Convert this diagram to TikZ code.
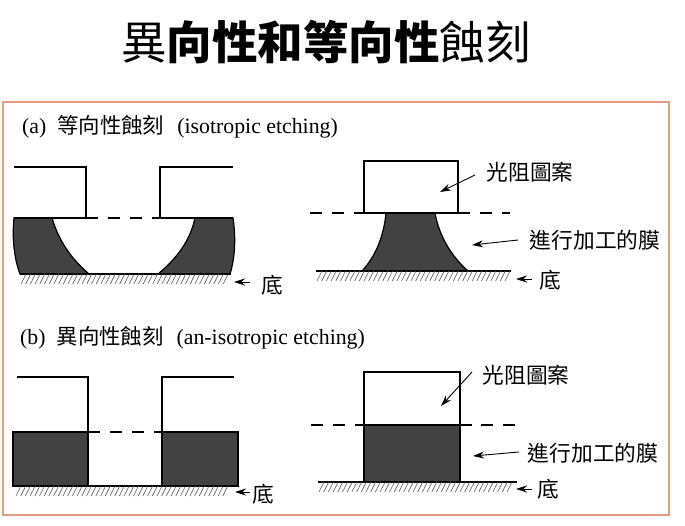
\documentclass[tikz,border=0pt]{standalone}
\usepackage{fontspec}
\usepackage{xcolor}
\usepackage{tikz}
\usetikzlibrary{
  positioning,
  calc,
  arrows.meta
}
\setmainfont{Liberation Serif}
\newfontfamily\cjk{Noto Sans CJK TC}
\newcommand{\capcjk}[1]{\hspace{11pt}{\fontsize{21.4}{22}\selectfont\cjk #1}\hspace{13pt}}
\definecolor{framecolor}{HTML}{E99A84}
\definecolor{filmcolor}{HTML}{424242}
\tikzset{
  outline/.style={line width=1.5pt, black},
  film/.style={fill=filmcolor, draw=black, line width=1.2pt},
  dashline/.style={line width=1.4pt, dash pattern=on 12pt off 10pt},
  hatchline/.style={line width=0.6pt, black!65},
  pointer/.style={-{Stealth[length=11pt,width=7pt]}, line width=0.9pt},
  label/.style={inner sep=0pt, font=\fontsize{21.7}{23}\selectfont\cjk},
  caption/.style={inner sep=0pt, anchor=west, font=\fontsize{21.8}{23}\selectfont}
}
\begin{document}
\begin{tikzpicture}[x=1pt, y=-1pt]
      \useasboundingbox (0,0) rectangle (685,526);

      % Title and frame
      \node[inner sep=0pt, font=\fontsize{45.5}{50}\selectfont\cjk] (title) at (326,42) {異\textbf{向性和等向性}蝕刻};
      \draw[framecolor, line width=1.6pt] (3,102) rectangle (669,515);

      % Captions
      \node[caption] (capa) at (22,127) {(a)\capcjk{等向性蝕刻}(isotropic etching)};
      \node[caption] (capb) at (20,338) {(b)\capcjk{異向性蝕刻}(an-isotropic etching)};

      % Panel a, left - film
      \draw[film] (14,218) -- (52,218) .. controls (60,245) and (75,262) .. (89,274)
        -- (20,274) .. controls (14,258) and (12,238) .. cycle;
      \draw[film] (195,218) -- (233,218) .. controls (236,238) and (235,258) .. (230,274)
        -- (158,274) .. controls (175,260) and (190,242) .. cycle;
      \draw[outline] (20,274) -- (231,274);
      \draw[outline] (14,167) -- (86,167) -- (86,218) -- (14,218);
      \draw[outline] (233,167) -- (160,167) -- (160,218) -- (233,218);
      \draw[dashline] (86,218) -- (162,218);

      % Panel a, right - film under resist
      \draw[film] (386,213) -- (435,213) .. controls (439,235) and (450,255) .. (468,271)
        -- (362,271) .. controls (376,256) and (384,235) .. cycle;
      \draw[outline] (364,161) rectangle (458,213);
      \draw[dashline] (310,213) -- (364,213);
      \draw[outline] (458,213) -- (470,213);
      \draw[dashline] (480,213) -- (510,213);
      \draw[outline] (316,271) -- (511,271);

      % Panel b, left - film
      \draw[film] (13,432) rectangle (88,486);
      \draw[film] (162,432) rectangle (238,486);
      \draw[outline] (15,486) -- (236,486);
      \draw[outline] (17,377) -- (88,377) -- (88,432);
      \draw[outline] (234,377) -- (162,377) -- (162,432);
      \draw[dashline] (88,432) -- (162,432);

      % Panel b, right - film under resist
      \draw[film] (364,425) rectangle (460,482);
      \draw[outline] (364,372) rectangle (460,425);
      \draw[dashline] (311,425) -- (364,425);
      \draw[outline] (460,425) -- (472,425);
      \draw[dashline] (481,425) -- (515,425);
      \draw[outline] (318,482) -- (517,482);

      % Substrate hatching
      \foreach \xa/\xb/\ya in {26/230/274, 322/511/271, 21/232/486, 324/515/482} {
        \pgfmathsetmacro\xc{\xa+4.7}
        \foreach \x in {\xa,\xc,...,\xb} {
          \draw[hatchline] (\x,\ya) -- (\x-5,\ya+10);
        }
      }

      % Labels
      \node[label] (subaleft) at (272,285) {底};
      \node[label] (subaright) at (550,280) {底};
      \node[label] (subbleft) at (263,494) {底};
      \node[label] (subbright) at (548,489) {底};
      \node[label] (resista) at (530,172) {光阻圖案};
      \node[label] (filma) at (595,240) {進行加工的膜};
      \node[label] (resistb) at (526,375) {光阻圖案};
      \node[label] (filmb) at (593,453) {進行加工的膜};

      % Arrow ends
      \coordinate (ra0) at (475,175);
      \coordinate (ra) at (440,192);
      \coordinate (fa0) at (518,240);
      \coordinate (fa) at (472,245);
      \coordinate (rb0) at (472,372);
      \coordinate (rb) at (441,406);
      \coordinate (fb0) at (519,452);
      \coordinate (fb) at (473,456);
      \coordinate (sa10) at (250,282);
      \coordinate (sa1) at (234,282);
      \coordinate (sa20) at (532,279);
      \coordinate (sa2) at (516,279);
      \coordinate (sb10) at (250,492);
      \coordinate (sb1) at (235,492);
      \coordinate (sb20) at (532,489);
      \coordinate (sb2) at (516,489);

      % Arrows
      \draw[pointer] (ra0) -- (ra);
      \draw[pointer] (fa0) -- (fa);
      \draw[pointer] (rb0) -- (rb);
      \draw[pointer] (fb0) -- (fb);
      \draw[pointer] (sa10) -- (sa1);
      \draw[pointer] (sa20) -- (sa2);
      \draw[pointer] (sb10) -- (sb1);
      \draw[pointer] (sb20) -- (sb2);
    \end{tikzpicture}
\end{document}
